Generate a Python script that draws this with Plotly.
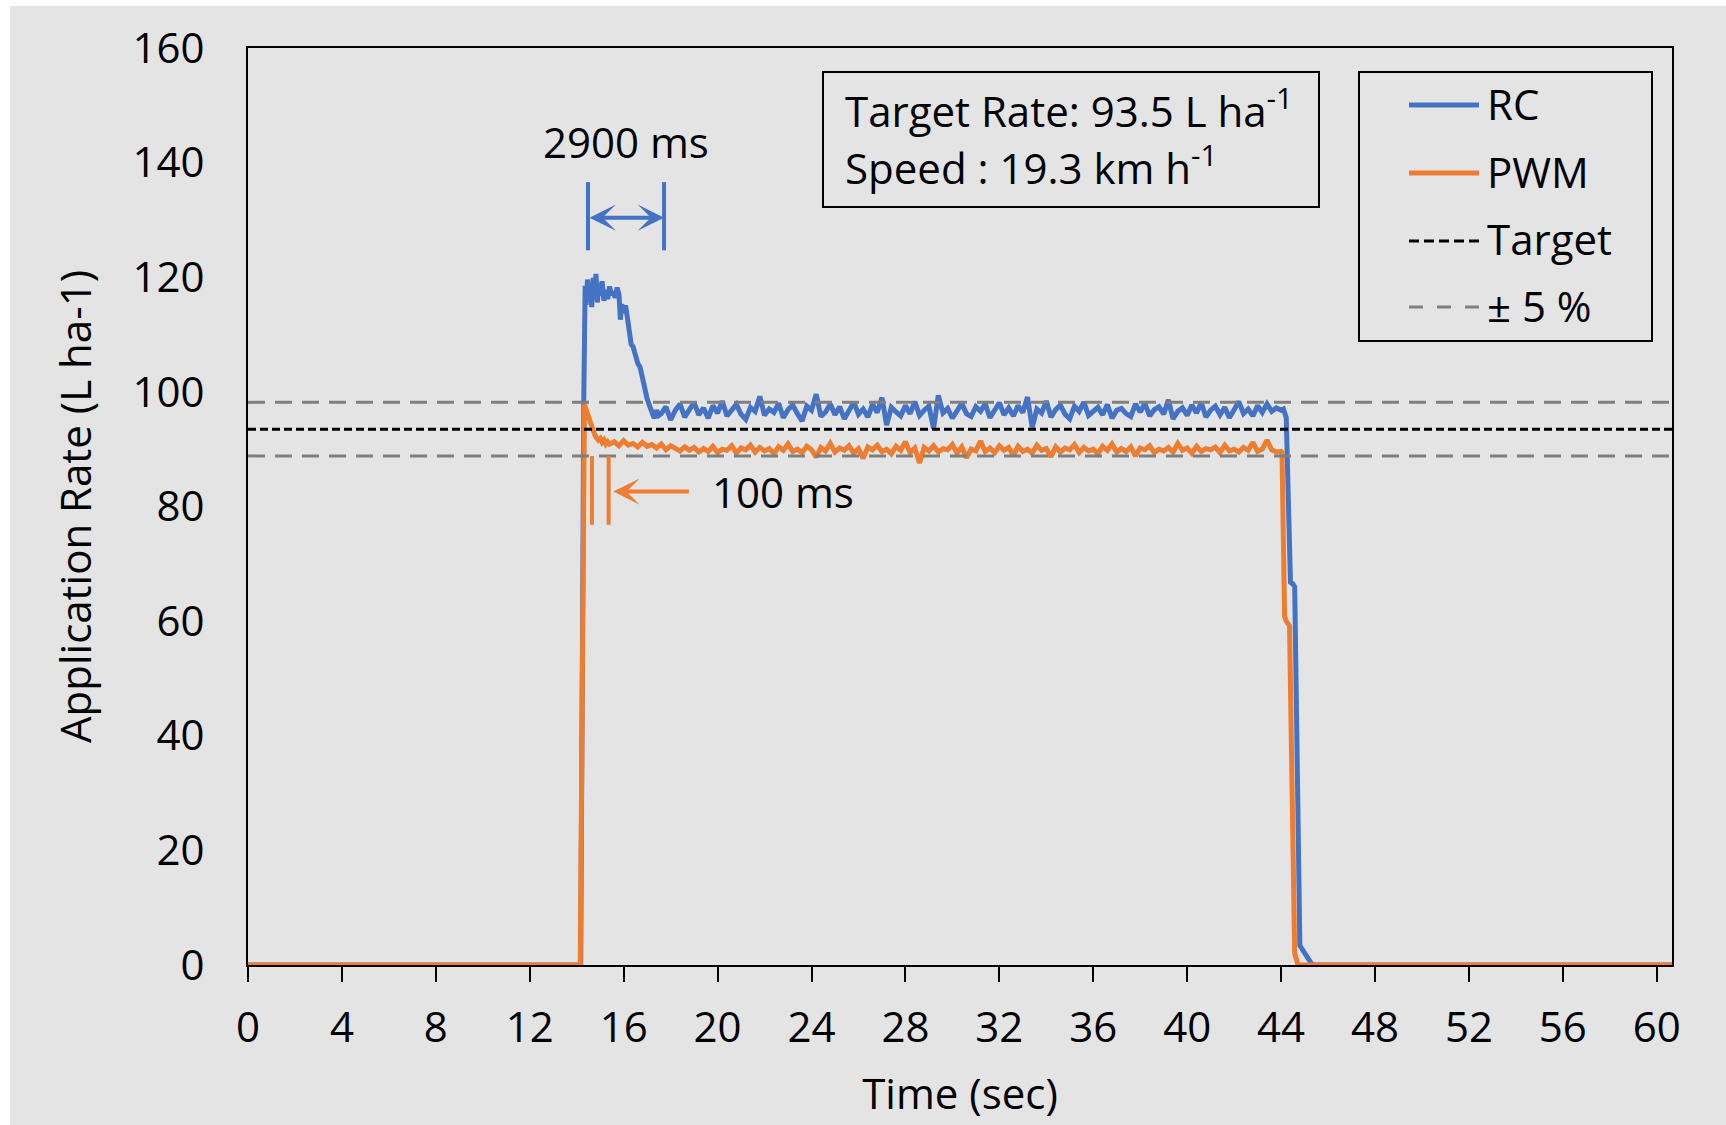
import plotly.graph_objects as go

# ---------------- data ----------------
target_rate = 93.5          # L/ha
band_pct = 5                # tolerance band, %
x_end = 60.65               # end of record, s

# RC controller: start-up transient (time s, rate L/ha)
rc_rise_t = [0, 14.17, 14.30, 14.36, 14.40, 14.46, 14.52, 14.58, 14.64, 14.70, 14.76,
             14.82, 14.88, 14.94, 15.00, 15.08, 15.16, 15.24, 15.32, 15.40, 15.48,
             15.56, 15.64, 15.72, 15.80, 15.86, 15.92, 16.00, 16.08, 16.16, 16.24,
             16.32, 16.40, 16.50, 16.60, 16.70, 16.80, 16.90, 17.00, 17.10, 17.20,
             17.30, 17.40, 17.50]
rc_rise_v = [0, 0, 98.0, 118.5, 115.2, 119.6, 116.0, 118.2, 114.8, 119.9, 116.5,
             120.6, 115.6, 118.9, 116.8, 119.3, 115.9, 117.8, 116.2, 118.4, 116.9,
             117.5, 116.4, 118.2, 117.0, 112.6, 115.3, 113.8, 115.1, 112.9, 110.7,
             108.3, 107.9, 106.2, 105.0, 104.3, 102.4, 100.1, 98.8, 97.6, 96.1,
             95.4, 96.8, 95.9]

# RC controller: steady section, logged every 0.2 s from 17.6 s
rc_steady_t0 = 17.6
rc_steady_v = [
    96.2, 97.4, 95.1, 96.8, 97.9, 95.6, 96.9, 98.1, 96.0, 97.2,
    95.4, 97.6, 96.3, 98.4, 95.8, 96.7, 97.8, 96.1, 95.2, 97.3,
    96.6, 99.2, 95.9, 97.0, 96.4, 98.0, 95.5, 96.9, 97.7, 96.2,
    94.9, 97.5, 96.8, 99.6, 95.7, 96.5, 97.9, 96.0, 97.4, 95.3,
    96.7, 98.2, 96.1, 97.0, 95.6, 97.8, 96.4, 99.0, 94.2, 97.3,
    96.5, 95.8, 97.6, 96.2, 98.3, 95.9, 96.8, 97.5, 93.6, 99.4,
    96.3, 97.1, 95.4, 96.9, 98.0, 96.2, 95.7, 97.4, 96.6, 97.9,
    95.5, 96.8, 98.1, 96.0, 97.2, 95.8, 97.6, 96.4, 99.1, 93.8,
    97.0, 96.3, 98.4, 95.6, 96.9, 97.7, 96.1, 95.3, 97.5, 96.6,
    98.2, 95.9, 96.7, 97.3, 96.0, 97.8, 95.4, 96.8, 97.1, 96.2,
    95.7, 97.9, 96.5, 98.0, 95.8, 96.9, 97.4, 96.1, 98.6, 95.3,
    96.6, 97.2, 95.9, 97.7, 96.3, 98.1, 95.6, 96.8, 97.5, 96.0,
    97.3, 95.5, 96.9, 98.3, 96.2, 97.0, 95.8, 97.6, 96.4, 97.9,
    96.6, 97.2, 96.8]

# RC controller: shut-off
rc_fall_t = [44.10, 44.22, 44.40, 44.50, 44.58, 44.80, 44.92, 45.05, 45.18, 45.30, 45.40, x_end]
rc_fall_v = [97.0, 95.5, 66.8, 66.5, 66.0, 3.4, 2.6, 1.6, 1.0, 0.2, 0, 0]

# PWM controller: start-up transient
pwm_rise_t = [0, 14.15, 14.33, 14.40, 14.46, 14.52, 14.60, 14.68, 14.76, 14.84, 14.92,
              15.00, 15.08, 15.16, 15.24, 15.32]
pwm_rise_v = [0, 0, 97.8, 96.9, 96.2, 95.6, 94.5, 93.4, 92.6, 92.0, 91.6,
              91.9, 91.2, 91.6, 90.9, 91.3]

# PWM controller: steady section, logged every 0.2 s from 15.4 s
pwm_steady_t0 = 15.4
pwm_steady_v = [
    90.9, 91.3, 90.6, 91.5, 90.7, 91.0, 90.4, 91.2, 90.5, 90.8,
    90.2, 90.9, 89.9, 90.6, 90.1, 89.7, 90.4, 89.8, 90.3, 89.5,
    90.1, 89.6, 90.5, 89.4, 90.0, 89.8, 90.6, 89.3, 90.2, 89.9,
    90.7, 89.5, 90.3, 89.7, 90.1, 89.2, 90.4, 89.8, 90.9, 89.6,
    90.0, 89.4, 90.5, 89.9, 88.6, 90.3, 89.7, 91.0, 89.5, 90.2,
    89.8, 90.6, 89.3, 90.1, 88.4, 90.4, 89.9, 90.7, 89.6, 90.0,
    89.2, 90.5, 89.8, 91.3, 89.4, 90.2, 87.6, 90.3, 89.7, 90.6,
    89.5, 90.1, 89.9, 90.8, 89.3, 90.4, 88.5, 90.0, 89.7, 91.4,
    89.6, 90.2, 89.4, 90.6, 89.8, 90.3, 88.9, 90.5, 89.6, 90.0,
    89.3, 90.7, 89.8, 90.1, 88.7, 90.4, 89.5, 90.2, 89.9, 90.8,
    89.4, 90.3, 89.7, 90.0, 89.2, 90.5, 89.8, 90.9, 89.5, 90.1,
    89.6, 90.4, 88.8, 90.2, 89.9, 90.6, 89.4, 90.0, 89.7, 90.3,
    89.5, 91.0, 89.8, 90.2, 89.3, 90.5, 89.6, 90.1, 89.9, 90.4,
    89.4, 90.7, 89.7, 90.0, 89.5, 90.3, 89.8, 91.2, 89.6, 90.0,
    91.6, 89.9, 89.5, 89.6]

# PWM controller: shut-off
pwm_fall_t = [44.04, 44.15, 44.22, 44.36, 44.58, 44.70, 44.80, x_end]
pwm_fall_v = [89.4, 60.8, 60.0, 59.2, 2.0, 0.3, 0, 0]

x_ticks = list(range(0, 61, 4))
y_ticks = list(range(0, 161, 20))

# response-time brackets (time s, rate L/ha)
rc_bracket_x = [14.48, 17.72]
rc_bracket_y = [124.7, 136.6]
rc_arrow_y = 130.4
pwm_bracket_x = [14.65, 15.36]
pwm_bracket_y = [76.8, 88.8]
pwm_arrow_y = 82.6
pwm_arrow_tail_x = 18.84

# ---------------- styling ----------------
BLUE = "#4472C4"
ORANGE = "#ED7D31"
GREY = "#7F7F7F"
BG = "#E4E4E4"
FONT = "Open Sans"
FS = 42

W, H = 1726, 1125
ML, MR, MT, MB = 248, 54, 48, 160
PW, PH = W - ML - MR, H - MT - MB


def px(x):
    return (x - ML) / PW


def py(y):
    return (H - MB - y) / PH


def series(rise_t, rise_v, t0, steady_v, fall_t, fall_v):
    steady_t = [round(t0 + 0.2 * i, 2) for i in range(len(steady_v))]
    return rise_t + steady_t + fall_t, rise_v + steady_v + fall_v


rc_t, rc_v = series(rc_rise_t, rc_rise_v, rc_steady_t0, rc_steady_v, rc_fall_t, rc_fall_v)
pwm_t, pwm_v = series(pwm_rise_t, pwm_rise_v, pwm_steady_t0, pwm_steady_v, pwm_fall_t, pwm_fall_v)

upper = target_rate * (1 + band_pct / 100)
lower = target_rate * (1 - band_pct / 100)

fig = go.Figure()
fig.add_trace(go.Scatter(x=rc_t, y=rc_v, mode="lines", name="RC",
                         line=dict(color=BLUE, width=5), showlegend=False))
fig.add_trace(go.Scatter(x=pwm_t, y=pwm_v, mode="lines", name="PWM",
                         line=dict(color=ORANGE, width=5), showlegend=False))
for yv, col, dash, wd in [(upper, GREY, "17px,10px", 3), (lower, GREY, "17px,10px", 3),
                          (target_rate, "black", "8px,4px", 3)]:
    fig.add_trace(go.Scatter(x=[0, x_end], y=[yv, yv], mode="lines",
                             line=dict(color=col, width=wd, dash=dash),
                             showlegend=False, hoverinfo="skip"))

shapes = [
    # grey canvas with a thin white edge on the left and top
    dict(type="rect", xref="paper", yref="paper", x0=px(10), x1=px(W), y0=py(6), y1=py(H),
         fillcolor=BG, line=dict(width=0), layer="below"),
    # info box
    dict(type="rect", xref="paper", yref="paper", x0=px(823), x1=px(1319), y0=py(72), y1=py(207),
         line=dict(color="black", width=2)),
    # legend box
    dict(type="rect", xref="paper", yref="paper", x0=px(1359), x1=px(1652), y0=py(72), y1=py(341),
         line=dict(color="black", width=2)),
]

# legend samples
leg_items = [("RC", BLUE, "solid", 5, 105), ("PWM", ORANGE, "solid", 5, 173),
             ("Target", "black", "10px,5px", 3, 241), ("± 5 %", GREY, "14px,14px", 3, 307)]
annotations = []
for label, col, dash, wd, yy in leg_items:
    shapes.append(dict(type="line", xref="paper", yref="paper", x0=px(1409), x1=px(1479),
                       y0=py(yy), y1=py(yy), line=dict(color=col, width=wd, dash=dash)))
    annotations.append(dict(xref="paper", yref="paper", x=px(1485), y=py(yy - 2), text=label,
                            showarrow=False, xanchor="left", yanchor="middle",
                            font=dict(family=FONT, size=FS, color="black")))

# bracket ticks
for xb in rc_bracket_x:
    shapes.append(dict(type="line", xref="x", yref="y", x0=xb, x1=xb,
                       y0=rc_bracket_y[0], y1=rc_bracket_y[1], line=dict(color=BLUE, width=4)))
for xb in pwm_bracket_x:
    shapes.append(dict(type="line", xref="x", yref="y", x0=xb, x1=xb,
                       y0=pwm_bracket_y[0], y1=pwm_bracket_y[1], line=dict(color=ORANGE, width=4)))

annotations += [
    dict(xref="paper", yref="paper", x=px(843), y=py(108), text="Target Rate: 93.5 L ha<sup>-1</sup>",
         showarrow=False, xanchor="left", yanchor="middle",
         font=dict(family=FONT, size=FS, color="black")),
    dict(xref="paper", yref="paper", x=px(843), y=py(165), text="Speed : 19.3 km h<sup>-1</sup>",
         showarrow=False, xanchor="left", yanchor="middle",
         font=dict(family=FONT, size=FS, color="black")),
    # RC settling arrow
    dict(x=rc_bracket_x[1], y=rc_arrow_y, ax=rc_bracket_x[0], ay=rc_arrow_y,
         xref="x", yref="y", axref="x", ayref="y", text="", showarrow=True,
         arrowhead=3, startarrowhead=3, arrowside="end+start", arrowsize=1.1,
         startarrowsize=1.1, arrowwidth=4, arrowcolor=BLUE, standoff=0, startstandoff=0),
    dict(x=(rc_bracket_x[0] + rc_bracket_x[1]) / 2, y=143.7, xref="x", yref="y",
         text="2900 ms", showarrow=False, font=dict(family=FONT, size=FS, color="black")),
    # PWM response arrow
    dict(x=pwm_bracket_x[1] + 0.2, y=pwm_arrow_y, ax=pwm_arrow_tail_x, ay=pwm_arrow_y,
         xref="x", yref="y", axref="x", ayref="y", text="", showarrow=True,
         arrowhead=3, arrowsize=1.1, arrowwidth=4, arrowcolor=ORANGE, standoff=0),
    dict(x=19.69, y=pwm_arrow_y, xref="x", yref="y", text="100 ms", showarrow=False,
         xanchor="left", yanchor="middle", font=dict(family=FONT, size=FS, color="black")),
]

fig.update_layout(
    width=W, height=H,
    margin=dict(l=ML, r=MR, t=MT, b=MB, pad=0),
    paper_bgcolor="white", plot_bgcolor=BG,
    font=dict(family=FONT, size=FS, color="black"),
    shapes=shapes, annotations=annotations,
    xaxis=dict(range=[0, x_end], tickvals=x_ticks, ticks="outside", ticklen=15, tickwidth=2,
               tickcolor="black", showline=True, linecolor="black", linewidth=2, mirror=True,
               showgrid=False, zeroline=False, layer="below traces",
               tickfont=dict(family=FONT, size=FS), ticklabelstandoff=10,
               title=dict(text="Time (sec)", font=dict(family=FONT, size=FS), standoff=26)),
    yaxis=dict(range=[0, 160], tickvals=y_ticks, ticks="", showline=True, linecolor="black",
               linewidth=2, mirror=True, showgrid=False, zeroline=False, layer="below traces",
               tickfont=dict(family=FONT, size=FS), ticklabelstandoff=33,
               title=dict(text="Application Rate (L ha-1)", font=dict(family=FONT, size=FS),
                          standoff=28)),
)

fig.write_html("out.html")
